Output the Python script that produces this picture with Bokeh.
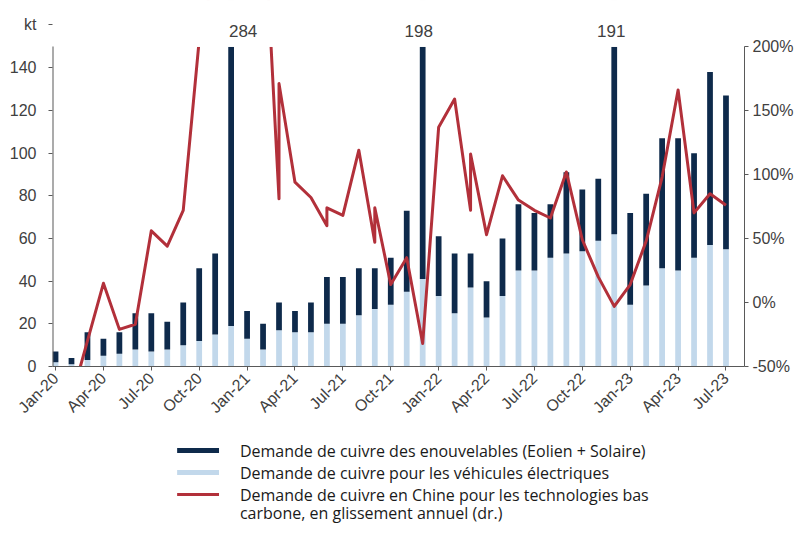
import math
from bokeh.plotting import figure
from bokeh.models import Range1d, LinearAxis, FixedTicker, PrintfTickFormatter, ColumnDataSource
from bokeh.layouts import column
from bokeh.core.properties import value
from bokeh.embed import file_html
from bokeh.resources import INLINE

# ---------------- data ----------------
months = ["Jan-20", "Feb-20", "Mar-20", "Apr-20", "May-20", "Jun-20", "Jul-20", "Aug-20", "Sep-20", "Oct-20", "Nov-20", "Dec-20",
          "Jan-21", "Feb-21", "Mar-21", "Apr-21", "May-21", "Jun-21", "Jul-21", "Aug-21", "Sep-21", "Oct-21", "Nov-21", "Dec-21",
          "Jan-22", "Feb-22", "Mar-22", "Apr-22", "May-22", "Jun-22", "Jul-22", "Aug-22", "Sep-22", "Oct-22", "Nov-22", "Dec-22",
          "Jan-23", "Feb-23", "Mar-23", "Apr-23", "May-23", "Jun-23", "Jul-23"]

# Copper demand for electric vehicles (kt) - light blue
ev_demand = [2, 1, 3, 5, 6, 8, 7, 8, 10, 12, 15, 19,
             13, 8, 17, 16, 16, 20, 20, 24, 27, 29, 35, 41,
             33, 25, 37, 23, 33, 45, 45, 51, 53, 54, 59, 62,
             29, 38, 46, 45, 51, 57, 55]

# Copper demand for renewables (wind + solar) (kt) - navy
renew_demand = [5, 3, 13, 8, 10, 17, 18, 13, 20, 34, 38, 265,
                13, 12, 13, 10, 14, 22, 22, 22, 19, 22, 38, 157,
                28, 28, 16, 17, 27, 31, 27, 25, 38, 29, 29, 129,
                43, 43, 61, 62, 49, 81, 72]

# China low-carbon copper demand, y/y % (right axis)
line_months = ["Jan-20", "Feb-20", "Mar-20", "Apr-20", "May-20", "Jun-20", "Jul-20", "Aug-20", "Sep-20", "Oct-20", "Nov-20", "Dec-20",
               "Jan-21", "Feb-21", "Mar-21", "Mar-21", "Apr-21", "May-21", "Jun-21", "Jun-21", "Jul-21", "Aug-21", "Sep-21", "Sep-21",
               "Oct-21", "Nov-21", "Dec-21", "Jan-22", "Feb-22", "Mar-22", "Mar-22", "Apr-22", "May-22", "Jun-22", "Jul-22", "Aug-22",
               "Sep-22", "Oct-22", "Nov-22", "Dec-22", "Jan-23", "Feb-23", "Mar-23", "Apr-23", "May-23", "Jun-23", "Jul-23"]
line_pct = [-70, -75, -30, 15, -21, -17, 56, 44, 72, 205, 260, 300,
            330, 320, 81, 171, 94, 82, 60, 74, 68, 119, 47, 74,
            14, 35, -32, 137, 159, 72, 116, 53, 99, 80, 72, 66,
            102, 49, 20, -3, 14, 48, 98, 166, 70, 85, 76]

tick_months = ["Jan-20", "Apr-20", "Jul-20", "Oct-20", "Jan-21", "Apr-21", "Jul-21", "Oct-21",
               "Jan-22", "Apr-22", "Jul-22", "Oct-22", "Jan-23", "Apr-23", "Jul-23"]
left_ticks = [0, 20, 40, 60, 80, 100, 120, 140]
right_ticks = [-50, 0, 50, 100, 150, 200]
unit_label = "kt"

legend_labels = ["Demande de cuivre des enouvelables (Eolien + Solaire)",
                 "Demande de cuivre pour les véhicules électriques",
                 "Demande de cuivre en Chine pour les technologies bas",
                 "carbone, en glissement annuel (dr.)"]

# ---------------- styling ----------------
NAVY = "#0e2a4b"
LIGHT = "#c2d8eb"
RED = "#b2303a"
AXIS = "#595959"
TXT = "#404040"
FONT = "Liberation Sans"

idx = {m: i for i, m in enumerate(months)}
xs = list(range(len(months)))
total = [a + b for a, b in zip(ev_demand, renew_demand)]
line_x = [idx[m] for m in line_months]

# layout (pixels): frame 52..746 x 0..366 ; value axes 0..150 / -50..200 span 46..366
Y_MAX = 150
PCT_MIN, PCT_MAX = -50, 200
FRAME_TOP, AXIS_TOP, FRAME_BOTTOM = 0, 46, 366
px_per_unit = (FRAME_BOTTOM - AXIS_TOP) / Y_MAX
Y_TOP = (FRAME_BOTTOM - FRAME_TOP) / px_per_unit
PCT_TOP = PCT_MIN + Y_TOP * (PCT_MAX - PCT_MIN) / Y_MAX
X0, X1 = -0.19, 43.16
KT_Y = (FRAME_BOTTOM - 24) / px_per_unit

CH_H = 436
p = figure(width=796, height=CH_H, output_backend="svg", toolbar_location=None,
           x_range=Range1d(X0, X1), y_range=Range1d(0, Y_TOP),
           min_border_left=52, min_border_right=50, min_border_top=FRAME_TOP, min_border_bottom=CH_H - FRAME_BOTTOM,
           background_fill_color="white", border_fill_color="white")
p.outline_line_color = None
p.xgrid.visible = False
p.ygrid.visible = False
p.extra_y_ranges = {"pct": Range1d(PCT_MIN, PCT_TOP)}

p.vbar(x=xs, bottom=0, top=ev_demand, width=0.36, fill_color=LIGHT, line_color=None)
p.vbar(x=xs, bottom=ev_demand, top=total, width=0.36, fill_color=NAVY, line_color=None)
p.line(x=line_x, y=line_pct, y_range_name="pct", line_color=RED, line_width=3, line_join="round")

# mask everything above the value axes' top (values beyond the axis are cut off as in the original);
# drawn several times so that no anti-aliased residue stays visible at the frame edge
for _ in range(5):
    p.quad(left=[X0 - 1], right=[X1 + 1], bottom=[Y_MAX], top=[Y_TOP + 20], fill_color="white", line_color=None)

# left axis line (value part only)
p.segment(x0=[X0], y0=[0], x1=[X0], y1=[Y_MAX], line_color=AXIS, line_width=2)

# values of bars that go beyond the axis
big = [i for i, t in enumerate(total) if t > Y_MAX]
big_offsets = [12, -4, -3]
src = ColumnDataSource(dict(x=big, y=[(FRAME_BOTTOM - 30) / px_per_unit] * len(big),
                            t=[str(total[i]) for i in big], off=big_offsets[:len(big)]))
p.text(x="x", y="y", text="t", x_offset="off", source=src, text_align="center", text_baseline="middle",
       text_font=value(FONT), text_font_size=value("17px"), text_color=TXT)

# axes
xa = p.xaxis[0]
xa.ticker = FixedTicker(ticks=[idx[m] for m in tick_months])
xa.major_label_overrides = {idx[m]: m for m in tick_months}
xa.major_label_orientation = math.pi / 4
xa.minor_tick_line_color = None
xa.major_tick_in = 0
xa.major_tick_out = 4
xa.axis_line_color = AXIS
xa.major_tick_line_color = AXIS
xa.major_label_text_color = TXT
xa.major_label_text_font = FONT
xa.major_label_text_font_size = "16px"
xa.major_label_standoff = 5

ya = p.yaxis[0]
ya.ticker = FixedTicker(ticks=left_ticks + [KT_Y])
ya.major_label_overrides = {KT_Y: unit_label}
ya.minor_tick_line_color = None
ya.major_tick_in = 0
ya.major_tick_out = 4
ya.axis_line_color = None
ya.major_tick_line_color = AXIS
ya.major_label_text_color = TXT
ya.major_label_text_font = FONT
ya.major_label_text_font_size = "16px"
ya.major_label_standoff = 12

ra = LinearAxis(y_range_name="pct", ticker=FixedTicker(ticks=right_ticks),
                formatter=PrintfTickFormatter(format="%d%%"), bounds=(PCT_MIN, PCT_MAX))
ra.minor_tick_line_color = None
ra.major_tick_in = 0
ra.major_tick_out = 4
ra.axis_line_color = AXIS
ra.major_tick_line_color = AXIS
ra.major_label_text_color = TXT
ra.major_label_text_font = FONT
ra.major_label_text_font_size = "16px"
ra.major_label_standoff = 4
p.add_layout(ra, "right")

# ---------------- legend (coordinates = page pixels) ----------------
LG_H = 524 - CH_H
lg = figure(width=796, height=LG_H, output_backend="svg", toolbar_location=None,
            x_range=Range1d(52, 746), y_range=Range1d(524, CH_H),
            min_border=0, x_axis_location=None, y_axis_location=None)
lg.outline_line_color = None
lg.xgrid.visible = False
lg.ygrid.visible = False
lg.quad(left=[177], right=[219], bottom=[452.5], top=[447.5], fill_color=NAVY, line_color=None)
lg.quad(left=[177], right=[219], bottom=[474.5], top=[469.5], fill_color=LIGHT, line_color=None)
lg.line(x=[177, 219], y=[494, 494], line_color=RED, line_width=3)
lg.text(x=[240] * 4, y=[450, 472, 494, 512], text=legend_labels, text_font=value("Open Sans"),
        text_font_size=value("16px"), text_color="#1a1a1a", text_baseline="middle", text_align="left")

layout = column(p, lg, spacing=0)
open("out.html", "w").write(file_html(layout, INLINE))
